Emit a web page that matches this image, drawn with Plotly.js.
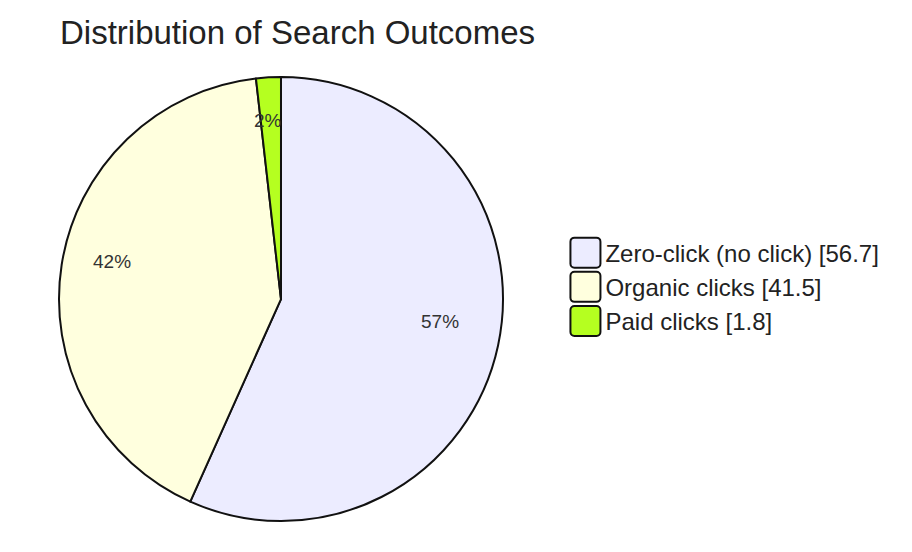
<!DOCTYPE html>
<html>
<head>
<meta charset="utf-8">
<script src="https://cdn.plot.ly/plotly-3.0.1.min.js"></script>
<style>
  html, body { margin: 0; padding: 0; background: #fff; }
  #pie { width: 912px; height: 552px; }
</style>
</head>
<body>
<div id="pie"></div>
<script>
// données du graphique
var outcomes = ['Zero-click (no click)', 'Organic clicks', 'Paid clicks'];
var shares = [56.7, 41.5, 1.8];
var sliceColors = ['#ECECFF', '#FFFFDE', '#B5FF20'];

var W = 912, H = 552;
var pieDomain = { x: [0.0647, 0.5515], y: [0.056, 0.8605] };
var fontFamily = 'Liberation Sans, Arial, sans-serif';

// libellés de légende avec la valeur entre crochets
var legendLabels = outcomes.map(function(name, i) {
  return name + ' [' + shares[i] + ']';
});

/* Place les pourcentages à 0.75 du rayon, au milieu de chaque part
 (sens horaire depuis le haut, comme la trace pie).
return : liste d'annotations */
function percentLabels() {
  var total = shares.reduce(function(a, b) { return a + b; }, 0);
  var cx = (pieDomain.x[0] + pieDomain.x[1]) / 2;
  var cy = (pieDomain.y[0] + pieDomain.y[1]) / 2;
  var r = Math.min((pieDomain.x[1] - pieDomain.x[0]) * W, (pieDomain.y[1] - pieDomain.y[0]) * H) / 2;
  var cumul = 0;
  var annots = [];
  for (var i = 0; i < shares.length; i++) {
    var mid = (cumul + shares[i] / 2) / total * 2 * Math.PI;
    cumul += shares[i];
    annots.push({
      xref: 'paper', yref: 'paper',
      x: cx + 0.75 * r * Math.sin(mid) / W,
      y: cy + 0.75 * r * Math.cos(mid) / H,
      xanchor: 'center', yanchor: 'bottom',
      xshift: -4,
      text: Math.round(shares[i] / total * 100) + '%',
      showarrow: false,
      font: { family: fontFamily, size: 19, color: '#333' }
    });
  }
  return annots;
}

var data = [{
  type: 'pie',
  labels: legendLabels,
  values: shares,
  sort: false,
  direction: 'clockwise',
  rotation: 0,
  textinfo: 'none',
  marker: { colors: sliceColors, line: { color: '#111', width: 2 } },
  hoverinfo: 'label+percent',
  domain: pieDomain
}];

var layout = {
  width: W,
  height: H,
  margin: { t: 0, b: 0, l: 0, r: 0 },
  paper_bgcolor: '#fff',
  font: { family: fontFamily, color: '#222' },
  title: {
    text: 'Distribution of Search Outcomes',
    font: { size: 33, color: '#222' },
    x: 0.0658, xanchor: 'left', xref: 'paper',
    y: 0.942, yanchor: 'middle'
  },
  annotations: percentLabels(),
  showlegend: true,
  legend: {
    x: 0.62, xanchor: 'left',
    y: 0.48, yanchor: 'middle',
    font: { size: 24, color: '#222' },
    bgcolor: 'rgba(0,0,0,0)'
  }
};

Plotly.newPlot('pie', data, layout, { displayModeBar: false, staticPlot: true })
  .then(function() {
    // pastilles de légende plus grandes, aux coins arrondis
    var swatches = document.querySelectorAll('.legendpoints path');
    swatches.forEach(function(p) {
      p.setAttribute('d', 'M-11,-15H11A4,4 0 0 1 15,-11V11A4,4 0 0 1 11,15H-11A4,4 0 0 1 -15,11V-11A4,4 0 0 1 -11,-15Z');
      p.style.strokeWidth = '2px';
    });
  });
</script>
</body>
</html>
